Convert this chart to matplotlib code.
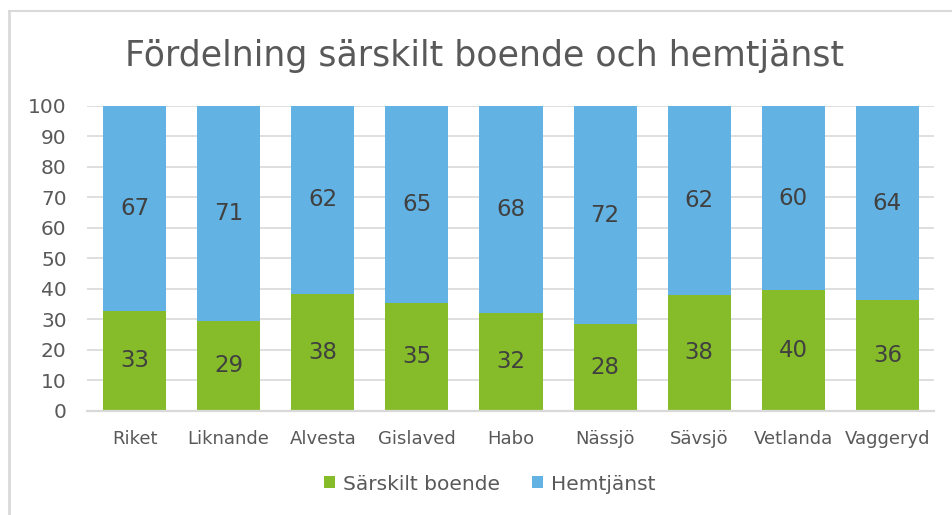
import numpy as np
import matplotlib
matplotlib.use('Agg')
import matplotlib.pyplot as plt
from matplotlib.lines import Line2D

categories = ['Riket', 'Liknande', 'Alvesta', 'Gislaved', 'Habo',
              'Nässjö', 'Sävsjö', 'Vetlanda', 'Vaggeryd']
boende = [32.7, 29.4, 38.4, 35.3, 32.0, 28.4, 37.9, 39.6, 36.3]
hemtjanst = [100 - v for v in boende]

green = '#86BC29'
blue = '#62B3E4'
grey_txt = '#595959'

fig = plt.figure(figsize=(9.52, 5.15), dpi=100)
ax = fig.add_axes([0.0919, 0.2025, 0.8897, 0.5917])

x = np.arange(len(categories))
b1 = ax.bar(x, boende, width=0.67, color=green, label='Särskilt boende', zorder=2)
b2 = ax.bar(x, hemtjanst, width=0.67, bottom=boende, color=blue, label='Hemtjänst', zorder=2)

for i in range(len(categories)):
    ax.text(x[i], boende[i] / 2, '%d' % round(boende[i]), ha='center', va='center',
            fontsize=16.5, color='#404040')
    ax.text(x[i], boende[i] + hemtjanst[i] / 2, '%d' % round(hemtjanst[i]),
            ha='center', va='center', fontsize=16.5, color='#404040')

ax.set_xlim(-0.5, len(categories) - 0.5)
ax.set_ylim(0, 100)
ax.set_yticks(range(0, 101, 10))
ax.set_xticks(x)
ax.set_xticklabels(categories)
ax.tick_params(axis='y', length=0, labelsize=14.5, labelcolor=grey_txt, pad=15)
ax.tick_params(axis='x', length=0, labelsize=13, labelcolor=grey_txt, pad=14)
ax.grid(axis='y', color='#D9D9D9', linewidth=1.2, zorder=0)
for s in ['top', 'right', 'left']:
    ax.spines[s].set_visible(False)
ax.spines['bottom'].set_color('#D9D9D9')
ax.spines['bottom'].set_linewidth(1.6)
ax.spines['bottom'].set_zorder(3)

fig.text(485 / 952, 1 - 56 / 515, 'Fördelning särskilt boende och hemtjänst',
         ha='center', va='center', fontsize=25, color=grey_txt)

fig.legend(handles=[b1, b2], loc='center', bbox_to_anchor=(490 / 952, 1 - 484 / 515),
           ncol=2, frameon=False, fontsize=14.5, labelcolor=grey_txt,
           handlelength=0.55, handleheight=0.55, handletextpad=0.4, columnspacing=1.6)

# chart border (left and top edges visible)
fig.add_artist(Line2D([9 / 952, 9 / 952], [0, 1 - 11 / 515], color='#D9D9D9', linewidth=2))
fig.add_artist(Line2D([9 / 952, 1], [1 - 11 / 515, 1 - 11 / 515], color='#D9D9D9', linewidth=1.5))

fig.savefig('out.png', dpi=100)
